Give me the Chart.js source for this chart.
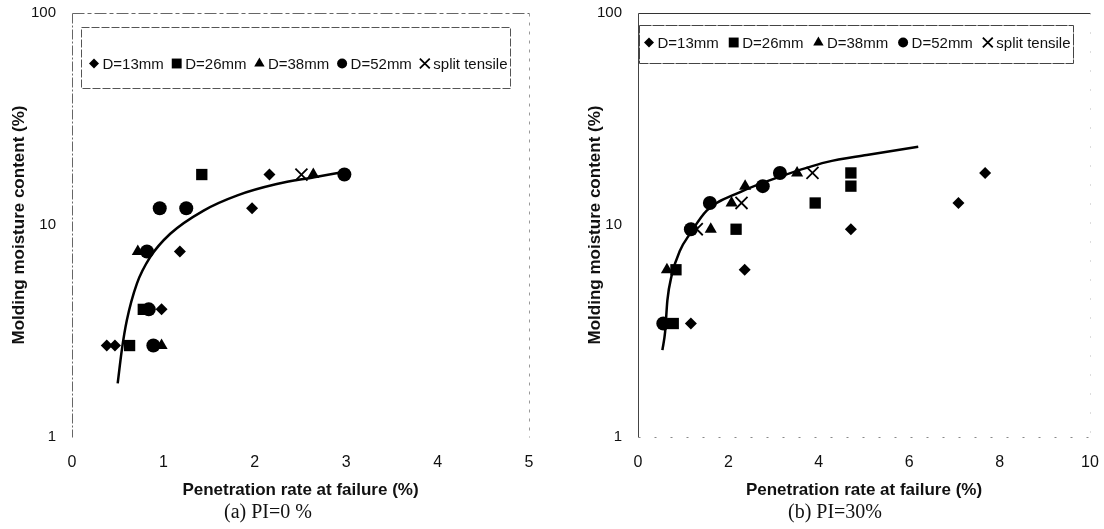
<!DOCTYPE html>
<html>
<head>
<meta charset="utf-8">
<script src="https://cdn.jsdelivr.net/npm/chart.js@4.4.1/dist/chart.umd.min.js"></script>
<style>
  body { margin: 0; background: #fff; }
  .box { position: absolute; top: 0; width: 552px; height: 529px; }
</style>
</head>
<body>
<div class="box" style="left:0"><canvas id="chartA" width="552" height="529"></canvas></div>
<div class="box" style="left:552px"><canvas id="chartB" width="552" height="529"></canvas></div>
<script>
// values
const labels = ['D=13mm', 'D=26mm', 'D=38mm', 'D=52mm', 'split tensile'];
const yTicks = [1, 10, 100];
const xTicksA = [0, 1, 2, 3, 4, 5];
const xTicksB = [0, 2, 4, 6, 8, 10];

// (a) PI=0 %
const d13A_x = [0.38, 0.47, 0.98, 1.18, 1.97, 2.16];
const d13A_y = [2.7, 2.7, 4.0, 7.5, 12.0, 17.3];
const d26A_x = [0.63, 0.78, 1.42];
const d26A_y = [2.7, 4.0, 17.3];
const d38A_x = [0.98, 0.72, 2.64];
const d38A_y = [2.7, 7.5, 17.3];
const d52A_x = [0.89, 0.84, 0.82, 0.96, 1.25, 2.98];
const d52A_y = [2.7, 4.0, 7.5, 12.0, 12.0, 17.3];
const splitA_x = [2.51];
const splitA_y = [17.3];
const fitA_x = [0.50, 0.545, 0.60, 0.71, 0.855, 1.075, 1.44, 1.81, 2.24, 2.65, 2.94];
const fitA_y = [1.79, 2.57, 3.55, 5.29, 7.05, 9.09, 11.7, 13.8, 15.6, 16.8, 17.7];

// (b) PI=30%
const d13B_x = [1.17, 2.36, 4.71, 7.09, 7.68];
const d13B_y = [3.43, 6.15, 9.55, 12.7, 17.6];
const d26B_x = [0.78, 0.84, 2.17, 3.92, 4.71, 4.71];
const d26B_y = [3.43, 6.15, 9.55, 12.7, 15.25, 17.6];
const d38B_x = [0.64, 1.61, 2.07, 2.37, 3.52];
const d38B_y = [6.15, 9.55, 12.7, 15.25, 17.6];
const d52B_x = [0.56, 1.17, 1.59, 2.76, 3.14];
const d52B_y = [3.43, 9.55, 12.7, 15.25, 17.6];
const splitB_x = [1.3, 2.29, 3.86];
const splitB_y = [9.55, 12.7, 17.6];
const fitB_x = [0.54, 0.60, 0.65, 0.745, 0.93, 1.15, 1.52, 2.26, 3.14, 4.17, 5.06, 6.2];
const fitB_y = [2.57, 3.13, 4.41, 5.78, 7.59, 9.09, 11.7, 14.3, 16.9, 19.8, 21.4, 23.4];

const pts = (xs, ys) => xs.map((x, i) => ({x: x, y: ys[i]}));

const styles = [
  {pointStyle: 'rectRot', radius: 6, legendRadius: 5},
  {pointStyle: 'rect', radius: 8, legendRadius: 7},
  {pointStyle: 'triangle', radius: 7, legendRadius: 6},
  {pointStyle: 'circle', radius: 7, legendRadius: 5},
  {pointStyle: 'crossRot', radius: 8.5, legendRadius: 7, line: 1.8}
];

function markSet(i, xs, ys) {
  const s = styles[i];
  return {
    label: labels[i],
    data: pts(xs, ys),
    pointStyle: s.pointStyle,
    pointRadius: s.radius,
    pointHoverRadius: s.radius,
    legendRadius: s.legendRadius,
    backgroundColor: s.line ? 'rgba(0,0,0,0)' : '#000',
    borderColor: '#000',
    borderWidth: s.line || 0
  };
}

function fitSet(xs, ys) {
  return {
    label: 'fit',
    inLegend: false,
    data: pts(xs, ys),
    showLine: true,
    pointRadius: 0,
    borderColor: '#000',
    borderWidth: 2.5,
    cubicInterpolationMode: 'monotone'
  };
}

// plot frame, each side its own stroke
function makeFrame(sides) {
  return {
    id: 'frame',
    beforeDatasetsDraw(chart) {
      const {ctx, chartArea: a} = chart;
      const seg = {
        top: [a.left, a.top, a.right, a.top],
        right: [a.right, a.top, a.right, a.bottom],
        bottom: [a.left, a.bottom, a.right, a.bottom],
        left: [a.left, a.top, a.left, a.bottom]
      };
      Object.keys(sides).forEach(k => {
        const s = sides[k], p = seg[k];
        ctx.save();
        ctx.strokeStyle = s.color;
        ctx.lineWidth = 1;
        ctx.setLineDash(s.dash);
        ctx.beginPath();
        ctx.moveTo(Math.round(p[0]) + 0.5, Math.round(p[1]) + 0.5);
        ctx.lineTo(Math.round(p[2]) + 0.5, Math.round(p[3]) + 0.5);
        ctx.stroke();
        ctx.restore();
      });
    }
  };
}

// boxed legend sitting inside the plot area
function makeLegend(cfg) {
  return {
    id: 'boxLegend',
    afterDatasetsDraw(chart) {
      const {ctx, chartArea: a} = chart;
      const items = chart.data.datasets.filter(d => d.inLegend !== false);
      const bx = Math.round(a.left + cfg.box[0]) + 0.5, by = Math.round(a.top + cfg.box[1]) + 0.5;
      const bw = cfg.box[2], bh = cfg.box[3];
      ctx.save();
      ctx.strokeStyle = cfg.color;
      ctx.lineWidth = 1;
      ctx.setLineDash(cfg.dash);
      ctx.strokeRect(bx, by, bw, bh);
      ctx.setLineDash([]);
      ctx.font = '15px "Liberation Sans", Arial, sans-serif';
      ctx.textBaseline = 'middle';
      const mark = 11, gapText = 3;
      const widths = items.map(d => mark + gapText + ctx.measureText(d.label).width);
      const inner = bw - cfg.inset[0] - cfg.inset[1];
      const gap = (inner - widths.reduce((s, w) => s + w, 0)) / (items.length - 1);
      let x = bx + cfg.inset[0];
      const y = by + cfg.textY;
      items.forEach((d, i) => {
        ctx.fillStyle = '#000';
        ctx.strokeStyle = '#000';
        ctx.lineWidth = d.borderWidth || 1;
        Chart.helpers.drawPoint(ctx, {pointStyle: d.pointStyle, radius: d.legendRadius, borderWidth: d.borderWidth || 0, rotation: 0}, x + mark / 2, y);
        ctx.fillStyle = '#111';
        ctx.fillText(d.label, x + mark + gapText, y + 1);
        x += widths[i] + gap;
      });
      ctx.restore();
    }
  };
}

const sans = '"Liberation Sans", Arial, sans-serif';

function buildChart(id, o) {
  return new Chart(document.getElementById(id), {
    type: 'scatter',
    data: {datasets: o.datasets},
    plugins: [makeFrame(o.frame), makeLegend(o.legend)],
    options: {
      responsive: false,
      animation: false,
      devicePixelRatio: 1,
      layout: {padding: {left: o.padLeft, right: o.padRight, top: 13, bottom: 0}},
      plugins: {
        legend: {display: false},
        tooltip: {enabled: false},
        title: {
          display: true,
          position: 'bottom',
          text: o.caption,
          color: '#111',
          font: {family: '"Liberation Serif", "Times New Roman", serif', size: 20, weight: 'normal'},
          padding: {top: 0, bottom: 4}
        }
      },
      scales: {
        x: {
          type: 'linear',
          min: o.xTicks[0],
          max: o.xTicks[o.xTicks.length - 1],
          afterBuildTicks: s => { s.ticks = o.xTicks.map(v => ({value: v})); },
          afterFit: s => { s.height = 64; s.paddingLeft = 0; s.paddingRight = 0; },
          grid: {display: false, drawTicks: false},
          border: {display: false},
          ticks: {color: '#111', padding: 16, font: {family: sans, size: 16}, callback: v => String(v)},
          title: {display: true, text: 'Penetration rate at failure (%)', color: '#111',
                  font: {family: sans, size: 17, weight: 'bold'}, padding: {top: 0, bottom: 0}}
        },
        y: {
          type: 'logarithmic',
          min: 1,
          max: 100,
          afterBuildTicks: s => { s.ticks = yTicks.map(v => ({value: v})); },
          afterFit: s => { s.width = o.yWidth; s.paddingTop = 0; s.paddingBottom = 0; },
          grid: {display: false, drawTicks: false},
          border: {display: false},
          ticks: {color: '#111', padding: 16, autoSkip: false, font: {family: sans, size: 15}, callback: v => String(v)},
          title: {display: true, text: 'Molding moisture content (%)', color: '#111',
                  font: {family: sans, size: 17, weight: 'bold'}, padding: {top: o.yTitlePad, bottom: 0}}
        }
      }
    }
  });
}

buildChart('chartA', {
  datasets: [
    markSet(0, d13A_x, d13A_y),
    markSet(1, d26A_x, d26A_y),
    markSet(2, d38A_x, d38A_y),
    markSet(3, d52A_x, d52A_y),
    markSet(4, splitA_x, splitA_y),
    fitSet(fitA_x, fitA_y)
  ],
  xTicks: xTicksA,
  caption: '(a) PI=0 %',
  padLeft: 7, padRight: 23, yWidth: 65, yTitlePad: 2,
  frame: {
    left: {color: '#666', dash: [10, 2, 2, 2]},
    top: {color: '#666', dash: [12, 3, 4, 3]},
    right: {color: '#999', dash: [3, 6]}
  },
  legend: {box: [9, 14, 429, 61], textY: 36, inset: [7, 3], color: '#555', dash: [8, 2]}
});

buildChart('chartB', {
  datasets: [
    markSet(0, d13B_x, d13B_y),
    markSet(1, d26B_x, d26B_y),
    markSet(2, d38B_x, d38B_y),
    markSet(3, d52B_x, d52B_y),
    markSet(4, splitB_x, splitB_y),
    fitSet(fitB_x, fitB_y)
  ],
  xTicks: xTicksB,
  caption: '(b) PI=30%',
  padLeft: 28, padRight: 14, yWidth: 58, yTitlePad: 5,
  frame: {
    left: {color: '#444', dash: []},
    top: {color: '#333', dash: []},
    right: {color: '#bbb', dash: [1, 18]},
    bottom: {color: '#888', dash: [2, 14]}
  },
  legend: {box: [1, 12, 434, 38], textY: 17, inset: [4, 3], color: '#444', dash: [12, 1]}
});
</script>
</body>
</html>
